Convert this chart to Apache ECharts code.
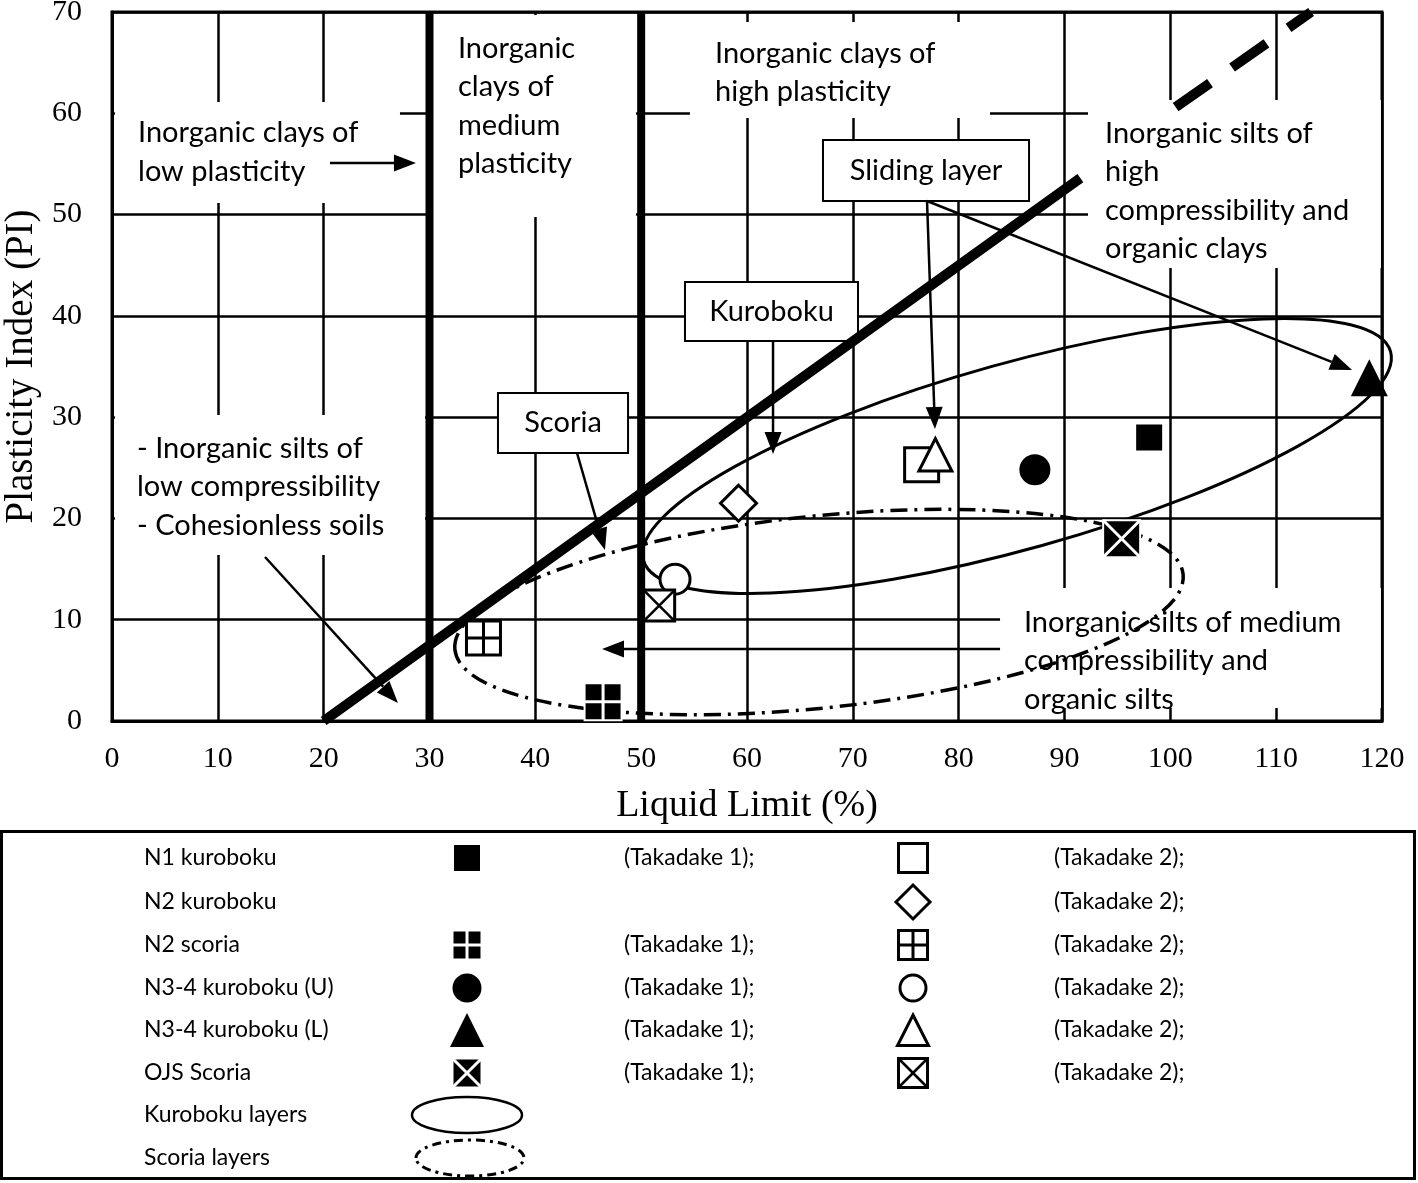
<!DOCTYPE html>
<html><head><meta charset="utf-8">
<script src="https://cdn.jsdelivr.net/npm/echarts@6/dist/echarts.min.js"></script>
<style>html,body{margin:0;padding:0;background:#fff}#c{width:1418px;height:1183px}</style>
</head><body><div id="c"></div>
<script>
// ---------- axis ticks ----------
const X_TICKS = [0, 10, 20, 30, 40, 50, 60, 70, 80, 90, 100, 110, 120];
const Y_TICKS = [0, 10, 20, 30, 40, 50, 60, 70];

// ---------- measured points (Liquid Limit %, Plasticity Index) ----------
const N1_KUROBOKU_T1 = [[98.0, 28.0]];
const N1_KUROBOKU_T2 = [[76.5, 25.3]];
const N2_KUROBOKU_T2 = [[59.2, 21.5]];
const N2_SCORIA_T1 = [[46.4, 1.9]];
const N2_SCORIA_T2 = [[35.1, 8.2]];
const N34_U_T1 = [[87.2, 24.8]];
const N34_U_T2 = [[53.2, 14.0]];
const N34_L_T1 = [[118.8, 33.9]];
const N34_L_T2 = [[77.8, 26.3]];
const OJS_T1 = [[95.4, 18.0]];
const OJS_T2 = [[51.7, 11.4]];

// ---------- classification lines ----------
const A_LINE = [[20, 0], [91.5, 53.6]];
const U_LINE = [[100.5, 60.6], [113.3, 70]];
const LL30_LINE = [[30, 0], [30, 70]];
const LL50_LINE = [[50, 0], [50, 70]];

// ---------- zones: [left tip x, y, right tip x, y, half-width in PI] ----------
const KUROBOKU_ZONE = [50.21, 15.87, 120.81, 36.46, 9.18];
const SCORIA_ZONE = [32.40, 7.05, 101.21, 14.47, 9.48];

// ---------- annotations ----------
const LABEL_TEXTS = [
  'Inorganic clays of\nlow plasticity',
  'Inorganic\nclays of\nmedium\nplasticity',
  'Inorganic clays of\nhigh plasticity',
  'Sliding layer',
  'Inorganic silts of\nhigh\ncompressibility and\norganic clays',
  'Kuroboku',
  'Scoria',
  '- Inorganic silts of\nlow compressibility\n- Cohesionless soils',
  'Inorganic silts of medium\ncompressibility and\norganic silts'
];
const LABEL_BOXES = [
  [0.28, 61.11, 27.21, 51.14],
  [30.33, 69.70, 49.51, 49.76],
  [54.61, 69.01, 82.96, 59.53],
  [67.18, 57.36, 86.65, 51.34],
  [92.22, 61.31, 119.9, 44.72],
  [54.14, 43.34, 70.49, 37.52],
  [36.47, 32.38, 48.76, 26.46],
  [0.28, 30.21, 29.58, 16.39],
  [83.91, 13.13, 119.9, 1.28]
];
const LABEL_ANCHORS = [[2.46, 59.95], [32.69, 68.32], [56.98, 67.83], null, [93.83, 59.93], null, null, [2.36, 28.83], [86.17, 11.65]];
const LABEL_FRAMED = [0, 0, 0, 1, 0, 1, 1, 0, 0];
const ARROWS = [
  [20.6, 55.09, 28.72, 55.09],
  [62.46, 37.52, 62.46, 26.36],
  [43.94, 26.46, 46.58, 16.88],
  [77.01, 51.34, 77.76, 28.83],
  [77.01, 51.34, 117.17, 34.65],
  [14.46, 16.19, 27.02, 1.78],
  [83.91, 7.11, 46.30, 7.11]
];

// ---------- legend ----------
const LEGEND_LABELS = ['N1 kuroboku', 'N2 kuroboku', 'N2 scoria', 'N3-4 kuroboku (U)', 'N3-4 kuroboku (L)', 'OJS Scoria', 'Kuroboku layers', 'Scoria layers'];
const LEGEND_T1 = ['sqF', null, 'plusF', 'cirF', 'triF', 'xF', 'ellS', 'ellD'];
const LEGEND_T2 = ['sqO', 'diaO', 'plusO', 'cirO', 'triO', 'xO', null, null];
const T1_TEXT = '(Takadake 1);';
const T2_TEXT = '(Takadake 2);';

const SERIES_DEF = [
  ['N1 kuroboku (Takadake 1)', N1_KUROBOKU_T1, 'sqF'],
  ['N1 kuroboku (Takadake 2)', N1_KUROBOKU_T2, 'sqO'],
  ['N2 kuroboku (Takadake 2)', N2_KUROBOKU_T2, 'diaO'],
  ['N2 scoria (Takadake 1)', N2_SCORIA_T1, 'plusF'],
  ['N2 scoria (Takadake 2)', N2_SCORIA_T2, 'plusO'],
  ['N3-4 kuroboku (U) (Takadake 1)', N34_U_T1, 'cirF'],
  ['N3-4 kuroboku (U) (Takadake 2)', N34_U_T2, 'cirO'],
  ['N3-4 kuroboku (L) (Takadake 1)', N34_L_T1, 'triF'],
  ['N3-4 kuroboku (L) (Takadake 2)', N34_L_T2, 'triO'],
  ['OJS Scoria (Takadake 1)', OJS_T1, 'xF'],
  ['OJS Scoria (Takadake 2)', OJS_T2, 'xO']
];

// ---------- styles ----------
const PLOT_SIZE = {sqF: 29, sqO: 34, diaO: 36, plusF: 37, plusO: 34, cirF: 31, cirO: 33, triF: 37, triO: 36, xF: 37, xO: 31};
const LEG_SIZE = {sqF: 29, sqO: 29, diaO: 34, plusF: 29, plusO: 29, cirF: 29, cirO: 29, triF: 34, triO: 34, xF: 29, xO: 29};
const K = '#000', W = '#fff';
const TXT_FONT = 'Lato';

function symbolEls(kind, cx, cy, s) {
  const h = s / 2;
  const sq = (fill, stroke, lw) => ({type: 'rect', shape: {x: cx - h, y: cy - h, width: s, height: s}, style: {fill: fill, stroke: stroke, lineWidth: lw}});
  const ln = (x1, y1, x2, y2, c, lw) => ({type: 'line', shape: {x1: x1, y1: y1, x2: x2, y2: y2}, style: {stroke: c, lineWidth: lw}});
  switch (kind) {
    case 'sqF': return [sq(K, W, 3)];
    case 'sqO': return [sq(W, K, 3)];
    case 'diaO': return [{type: 'polygon', shape: {points: [[cx, cy - h], [cx + h, cy], [cx, cy + h], [cx - h, cy]]}, style: {fill: W, stroke: K, lineWidth: 3}}];
    case 'plusF': return [sq(K, W, 2), ln(cx, cy - h, cx, cy + h, W, 3), ln(cx - h, cy, cx + h, cy, W, 3)];
    case 'plusO': return [sq(W, K, 3), ln(cx, cy - h, cx, cy + h, K, 3), ln(cx - h, cy, cx + h, cy, K, 3)];
    case 'cirF': return [{type: 'circle', shape: {cx: cx, cy: cy, r: h}, style: {fill: K}}];
    case 'cirO': return [{type: 'circle', shape: {cx: cx, cy: cy, r: h - 1.5}, style: {fill: W, stroke: K, lineWidth: 3}}];
    case 'triF': return [{type: 'polygon', shape: {points: [[cx, cy - h], [cx + h, cy + h], [cx - h, cy + h]]}, style: {fill: K}}];
    case 'triO': return [{type: 'polygon', shape: {points: [[cx, cy - h + 2], [cx + h - 1.5, cy + h - 1.5], [cx - h + 1.5, cy + h - 1.5]]}, style: {fill: W, stroke: K, lineWidth: 3}}];
    case 'xF': return [sq(K, W, 2), ln(cx - h, cy - h, cx + h, cy + h, W, 3), ln(cx + h, cy - h, cx - h, cy + h, W, 3)];
    case 'xO': return [sq(W, K, 3), ln(cx - h, cy - h, cx + h, cy + h, K, 2.5), ln(cx + h, cy - h, cx - h, cy + h, K, 2.5)];
  }
  return [];
}

const series = [];

// annotation boxes (white, under lines)
series.push({
  type: 'custom', name: 'labels', z: 1, silent: true, clip: false,
  data: LABEL_BOXES,
  encode: {x: [0, 2], y: [1, 3]},
  renderItem: function (params, api) {
    const i = params.dataIndex;
    const b = LABEL_BOXES[i];
    const a = api.coord([b[0], b[1]]);
    const c = api.coord([b[2], b[3]]);
    const framed = LABEL_FRAMED[i] === 1;
    const children = [{
      type: 'rect',
      shape: {x: a[0], y: a[1], width: c[0] - a[0], height: c[1] - a[1]},
      style: {fill: W, stroke: framed ? K : null, lineWidth: framed ? 2 : 0}
    }];
    if (LABEL_ANCHORS[i]) {
      const p = api.coord(LABEL_ANCHORS[i]);
      children.push({type: 'text', x: p[0], y: p[1], style: {text: LABEL_TEXTS[i], fill: K, fontFamily: TXT_FONT, fontSize: 29, align: 'left', verticalAlign: 'top', lineHeight: 38.5}});
    } else {
      children.push({type: 'text', x: (a[0] + c[0]) / 2, y: (a[1] + c[1]) / 2, style: {text: LABEL_TEXTS[i], fill: K, fontFamily: TXT_FONT, fontSize: 29, align: 'center', verticalAlign: 'middle'}});
    }
    return {type: 'group', children: children};
  }
});

// thick classification lines
const lineBase = {type: 'line', symbol: 'none', showSymbol: false, silent: true, z: 3, clip: true};
series.push(Object.assign({}, lineBase, {name: 'LL30', data: LL30_LINE, lineStyle: {color: K, width: 8, cap: 'butt'}}));
series.push(Object.assign({}, lineBase, {name: 'LL50', data: LL50_LINE, lineStyle: {color: K, width: 8, cap: 'butt'}}));
series.push(Object.assign({}, lineBase, {name: 'A-line', data: A_LINE, lineStyle: {color: K, width: 10, cap: 'butt'}}));
series.push(Object.assign({}, lineBase, {name: 'U-line', data: U_LINE, lineStyle: {color: K, width: 10, cap: 'butt', type: [42, 27]}}));

// zones
function zoneSeries(name, zone, dash, lw) {
  return {
    type: 'custom', name: name, z: 3, silent: true, clip: false,
    data: [zone],
    renderItem: function (params, api) {
      const pL = api.coord([api.value(0), api.value(1)]);
      const pR = api.coord([api.value(2), api.value(3)]);
      const cx = (pL[0] + pR[0]) / 2, cy = (pL[1] + pR[1]) / 2;
      const a = Math.hypot(pR[0] - pL[0], pR[1] - pL[1]) / 2;
      const rot = Math.atan2(pL[1] - pR[1], pR[0] - pL[0]);
      const bpx = api.size([0, api.value(4)])[1];
      return {type: 'ellipse', x: cx, y: cy, rotation: rot, shape: {cx: 0, cy: 0, rx: a, ry: bpx},
        style: {fill: null, stroke: K, lineWidth: lw, lineDash: dash}};
    }
  };
}
series.push(zoneSeries('Kuroboku layers', KUROBOKU_ZONE, null, 3));
series.push(zoneSeries('Scoria layers', SCORIA_ZONE, [17, 7, 3, 7], 3.5));

// arrows
series.push({
  type: 'custom', name: 'arrows', z: 4, silent: true, clip: false,
  data: ARROWS,
  renderItem: function (params, api) {
    const p0 = api.coord([api.value(0), api.value(1)]);
    const p1 = api.coord([api.value(2), api.value(3)]);
    const dx = p1[0] - p0[0], dy = p1[1] - p0[1];
    const len = Math.hypot(dx, dy);
    const ux = dx / len, uy = dy / len;
    const L = 22, Hw = 8.5;
    const bx = p1[0] - ux * L, by = p1[1] - uy * L;
    return {type: 'group', children: [
      {type: 'line', shape: {x1: p0[0], y1: p0[1], x2: bx, y2: by}, style: {stroke: K, lineWidth: 2.5}},
      {type: 'polygon', shape: {points: [[p1[0], p1[1]], [bx - uy * Hw, by + ux * Hw], [bx + uy * Hw, by - ux * Hw]]}, style: {fill: K}}
    ]};
  }
});

// markers
SERIES_DEF.forEach(function (d) {
  const kind = d[2];
  series.push({
    type: 'custom', name: d[0], z: 5, silent: true, clip: false,
    data: d[1],
    encode: {x: 0, y: 1},
    renderItem: function (params, api) {
      const p = api.coord([api.value(0), api.value(1)]);
      return {type: 'group', children: symbolEls(kind, p[0], p[1], PLOT_SIZE[kind])};
    }
  });
});

// legend graphics
const ROW_Y = [858, 902, 945, 988, 1030, 1073, 1115, 1158];
const graphic = [{type: 'rect', shape: {x: 1.5, y: 831.5, width: 1413, height: 347}, style: {fill: null, stroke: K, lineWidth: 3}}];
const legText = (x, y, t) => ({type: 'text', x: x, y: y, style: {text: t, fill: K, fontFamily: TXT_FONT, fontSize: 23, align: 'left', verticalAlign: 'middle'}});
LEGEND_LABELS.forEach(function (lab, i) {
  const y = ROW_Y[i];
  graphic.push(legText(144, y, lab));
  const k1 = LEGEND_T1[i], k2 = LEGEND_T2[i];
  if (k1 === 'ellS') {
    graphic.push({type: 'ellipse', shape: {cx: 467, cy: y, rx: 55, ry: 18}, style: {fill: null, stroke: K, lineWidth: 2.5}});
  } else if (k1 === 'ellD') {
    graphic.push({type: 'ellipse', shape: {cx: 470, cy: y, rx: 54, ry: 18}, style: {fill: null, stroke: K, lineWidth: 3, lineDash: [9, 5, 3, 5]}});
  } else if (k1) {
    graphic.push({type: 'group', children: symbolEls(k1, 467, y, LEG_SIZE[k1])});
    graphic.push(legText(624, y, T1_TEXT));
  }
  if (k2) {
    graphic.push({type: 'group', children: symbolEls(k2, 913, y, LEG_SIZE[k2])});
    graphic.push(legText(1054, y, T2_TEXT));
  }
});

const serif = 'Liberation Serif';
const chart = echarts.init(document.getElementById('c'), null, {renderer: 'canvas'});
chart.setOption({
  animation: false,
  backgroundColor: '#fff',
  grid: {left: 112, top: 12, width: 1270, height: 709, containLabel: false, outerBoundsMode: 'none',
    show: true, borderColor: K, borderWidth: 3, backgroundColor: 'transparent'},
  xAxis: {
    type: 'value', min: X_TICKS[0], max: X_TICKS[X_TICKS.length - 1], interval: X_TICKS[1] - X_TICKS[0],
    axisLine: {show: true, onZero: false, lineStyle: {color: K, width: 3}},
    axisTick: {show: false},
    axisLabel: {color: K, fontFamily: serif, fontSize: 30, margin: 23},
    splitLine: {show: true, lineStyle: {color: K, width: 2.5}},
    name: 'Liquid Limit (%)', nameLocation: 'middle', nameGap: 66,
    nameTextStyle: {color: K, fontFamily: serif, fontSize: 38}
  },
  yAxis: {
    type: 'value', min: Y_TICKS[0], max: Y_TICKS[Y_TICKS.length - 1], interval: Y_TICKS[1] - Y_TICKS[0],
    axisLine: {show: true, onZero: false, lineStyle: {color: K, width: 3}},
    axisTick: {show: false},
    axisLabel: {color: K, fontFamily: serif, fontSize: 30, margin: 30},
    splitLine: {show: true, lineStyle: {color: K, width: 2.5}},
    name: 'Plasticity Index (PI)', nameLocation: 'middle', nameGap: 62, nameRotate: 90,
    nameTextStyle: {color: K, fontFamily: serif, fontSize: 39}
  },
  graphic: graphic,
  series: series
});
</script>
</body></html>
